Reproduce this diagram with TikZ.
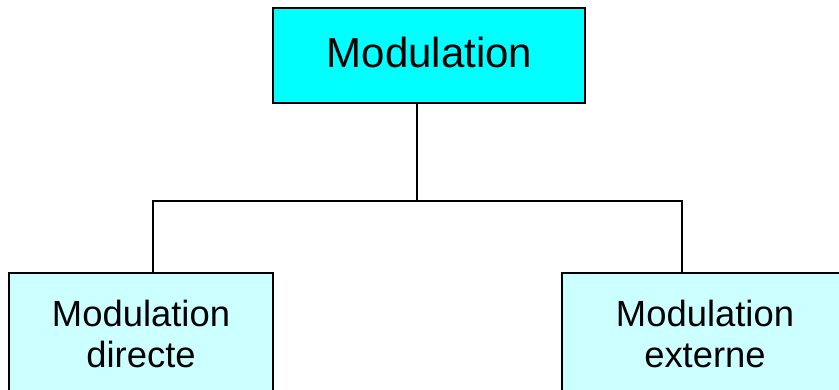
\documentclass[tikz,border=0pt]{standalone}
\usepackage{fontspec}
\setmainfont{Liberation Sans}
\definecolor{topcyan}{HTML}{00FFFF}
\definecolor{lightcyan}{HTML}{CCFFFF}
\begin{document}
\begin{tikzpicture}[x=1pt,y=-1pt,
  box/.style={draw=black,line width=1.5pt,rectangle,inner sep=0pt},
  conn/.style={draw=black,line width=1.5pt},
  bigtxt/.style={anchor=base,inner sep=0pt,font=\fontsize{42}{48}\selectfont},
  smalltxt/.style={anchor=base,inner sep=0pt,font=\fontsize{36.4}{41}\selectfont}]
\useasboundingbox (0,0) rectangle (839,389);
\clip (0,0) rectangle (839,389);
\node[box,fill=topcyan,minimum width=312pt,minimum height=95pt] (top) at (429,55.5) {};
\node[bigtxt] (toptxt) at (429.5,67) {Modulation};
\node[box,fill=lightcyan,minimum width=264pt,minimum height=160pt,anchor=north] (left) at (141,272) {};
\node[smalltxt] (l1) at (141,326) {Modulation};
\node[smalltxt] (l2) at (141,367) {directe};
\node[box,fill=lightcyan,minimum width=300pt,minimum height=160pt,anchor=north west] (right) at (561,272) {};
\node[smalltxt] (r1) at (705,326) {Modulation};
\node[smalltxt] (r2) at (705,367) {externe};
\coordinate (j) at (417,201);
\coordinate (jl) at (153,201);
\coordinate (jr) at (682,201);
\draw[conn] (j |- top.south) -- (j);
\draw[conn] (jl |- left.north) -- (jl) -- (jr) -- (jr |- right.north);
\end{tikzpicture}
\end{document}
